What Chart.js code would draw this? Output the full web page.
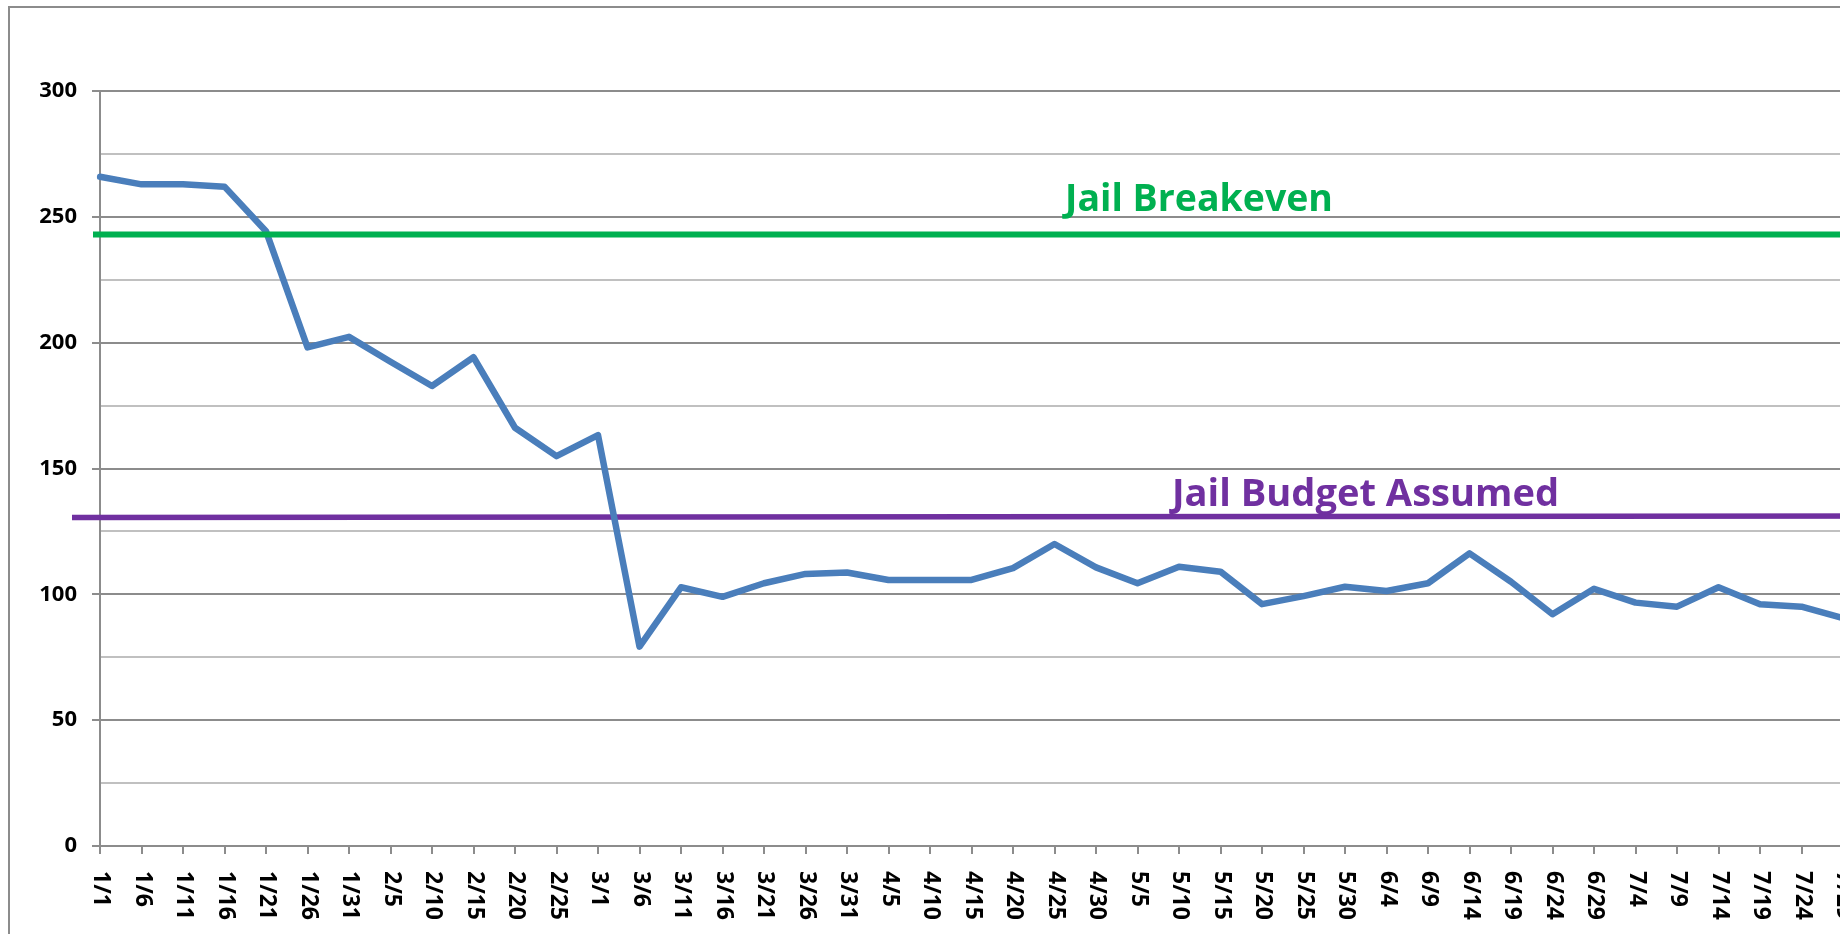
<!DOCTYPE html>
<html>
<head>
<meta charset="utf-8">
<title>Jail population</title>
<script src="https://cdn.jsdelivr.net/npm/chart.js@4.4.1/dist/chart.umd.min.js"></script>
<style>
  html, body { margin: 0; padding: 0; overflow: hidden; background: #fff; width: 1840px; height: 934px; }
  #frame { position: absolute; left: 8px; top: 6px; width: 1900px; height: 1000px;
           border-left: 2px solid #8c8c8c; border-top: 2px solid #8c8c8c; }
  #chart { position: absolute; left: 0; top: 0; }
</style>
</head>
<body>
<div id="frame"><canvas id="chart" width="1890" height="1000"></canvas></div>
<script>
// categorias (a cada 5 dias)
var dates = ['1/1', '1/6', '1/11', '1/16', '1/21', '1/26', '1/31', '2/5', '2/10', '2/15', '2/20', '2/25',
             '3/1', '3/6', '3/11', '3/16', '3/21', '3/26', '3/31', '4/5', '4/10', '4/15', '4/20', '4/25',
             '4/30', '5/5', '5/10', '5/15', '5/20', '5/25', '5/30', '6/4', '6/9', '6/14', '6/19', '6/24',
             '6/29', '7/4', '7/9', '7/14', '7/19', '7/24', '7/29'];

// populacao da cadeia
var population = [265.9, 262.9, 262.9, 262.0, 244.3, 198.1, 202.3, 192.4, 182.8, 194.2, 166.2, 154.9,
                  163.3, 79.2, 102.8, 99.0, 104.4, 108.1, 108.7, 105.7, 105.7, 105.7, 110.4, 120.0,
                  110.7, 104.4, 111.0, 109.0, 96.1, 99.3, 103.0, 101.3, 104.4, 116.3, 105.0, 92.1,
                  102.2, 96.7, 95.1, 102.8, 96.1, 95.1, 90.5];

// linhas de referencia
var breakeven = 243;
var budgetStart = 130.5;
var budgetEnd = 131.1;
var breakevenLabel = 'Jail Breakeven';
var budgetLabel = 'Jail Budget Assumed';

// eixo y
var yMin = 0, yMax = 300, yStep = 25, yLabelStep = 50;

var FONT = '"Open Sans", "Liberation Sans", sans-serif';
var majorGrid = '#8c8c8c';
var minorGrid = '#c0c0c0';

function fitFont(ctx, text, width) {
  ctx.font = 'bold 100px ' + FONT;
  var w = ctx.measureText(text).width;
  ctx.font = 'bold ' + (100 * width / w).toFixed(2) + 'px ' + FONT;
}

var refLines = {
  id: 'refLines',
  beforeDatasetsDraw: function (chart) {
    var ctx = chart.ctx, a = chart.chartArea, y = chart.scales.y;
    var y0 = y.getPixelForValue(budgetStart), y1 = y.getPixelForValue(budgetEnd);
    ctx.save();
    ctx.strokeStyle = '#7030a0';
    ctx.lineWidth = 5.5;
    ctx.beginPath();
    ctx.moveTo(a.left - 28, y0);
    ctx.lineTo(chart.width, y1);
    ctx.stroke();
    ctx.fillStyle = '#7030a0';
    fitFont(ctx, budgetLabel, 387);
    ctx.textBaseline = 'alphabetic';
    ctx.textAlign = 'left';
    ctx.fillText(budgetLabel, 1162, y0 - 12);
    ctx.restore();
  },
  afterDatasetsDraw: function (chart) {
    var ctx = chart.ctx, a = chart.chartArea, y = chart.scales.y;
    var yb = y.getPixelForValue(breakeven);
    ctx.save();
    ctx.strokeStyle = '#00b050';
    ctx.lineWidth = 6;
    ctx.beginPath();
    ctx.moveTo(a.left - 7, yb);
    ctx.lineTo(chart.width, yb);
    ctx.stroke();
    ctx.fillStyle = '#00b050';
    fitFont(ctx, breakevenLabel, 268);
    ctx.textBaseline = 'alphabetic';
    ctx.textAlign = 'left';
    ctx.fillText(breakevenLabel, 1055, yb - 23);
    ctx.restore();
  },
  afterDraw: function (chart) {
    // rotulos do eixo x girados 90 graus (leitura de cima para baixo)
    var ctx = chart.ctx, x = chart.scales.x, a = chart.chartArea;
    ctx.save();
    ctx.fillStyle = '#000';
    ctx.font = 'bold 23px ' + FONT;
    ctx.textAlign = 'left';
    ctx.textBaseline = 'middle';
    chart.data.labels.forEach(function (lab, i) {
      ctx.save();
      ctx.translate(x.getPixelForTick(i) + 1, a.bottom + 25);
      ctx.rotate(Math.PI / 2);
      ctx.fillText(lab, 0, 0);
      ctx.restore();
    });
    ctx.restore();
  }
};

var ctx = document.getElementById('chart').getContext('2d');

var chart = new Chart(ctx, {
  type: 'line',
  data: {
    labels: dates,
    datasets: [{
      label: 'Population',
      data: population,
      borderColor: '#4a7ebb',
      borderWidth: 6.5,
      pointRadius: 0,
      tension: 0,
      borderCapStyle: 'round',
      borderJoinStyle: 'round',
      fill: false
    }]
  },
  options: {
    responsive: false,
    animation: false,
    devicePixelRatio: 1,
    layout: { padding: { top: 83, right: 57, bottom: 0, left: 0 } },
    plugins: { legend: { display: false }, tooltip: { enabled: false } },
    scales: {
      x: {
        offset: false,
        afterFit: function (s) { s.height = 162; },
        ticks: { display: false },
        grid: { display: true, drawOnChartArea: false, drawTicks: true, tickLength: 8,
                color: majorGrid, lineWidth: 2 },
        border: { display: true, color: majorGrid, width: 2 }
      },
      y: {
        min: yMin,
        max: yMax,
        afterFit: function (s) { s.width = 90; },
        ticks: {
          stepSize: yStep,
          padding: 15,
          color: '#000',
          font: { family: FONT, size: 22, weight: 'bold' },
          callback: function (v) { return v % yLabelStep === 0 ? v : ''; }
        },
        grid: {
          lineWidth: 2,
          tickLength: 8,
          color: function (c) { return c.tick && c.tick.value % yLabelStep === 0 ? majorGrid : minorGrid; },
          tickColor: function (c) { return c.tick && c.tick.value % yLabelStep === 0 ? majorGrid : 'rgba(0,0,0,0)'; }
        },
        border: { display: true, color: majorGrid, width: 2 }
      }
    }
  },
  plugins: [refLines]
});
</script>
</body>
</html>
